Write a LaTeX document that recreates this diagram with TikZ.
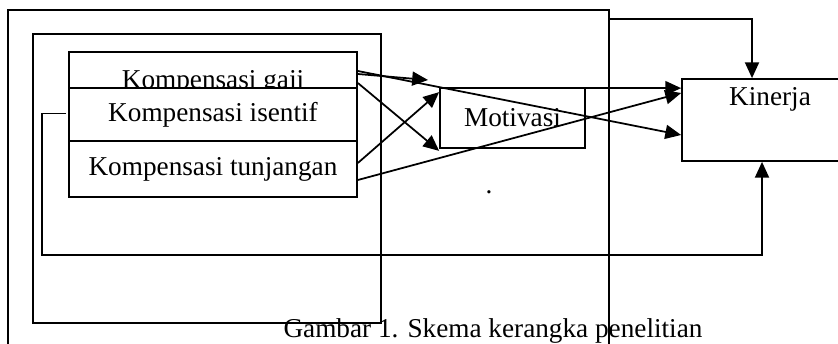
\documentclass[tikz,border=0pt]{standalone}
\usepackage{fontspec}
\setmainfont{Liberation Serif}
\usepackage{tikz}
\usetikzlibrary{arrows.meta, positioning, calc}

\begin{document}
\begin{tikzpicture}[x=0.02cm, y=-0.02cm, line width=1pt,
    box/.style={draw, fill=white, inner sep=0pt, font=\fontsize{15.5}{18}\selectfont},
    arr/.style={-{Triangle[length=9pt, width=8pt]}}]
\clip (0,0) rectangle (838,344);
% Frames
\draw (8,10) rectangle (609,360);
\draw (33,34) rectangle (381,323);
% Kompensasi
\node[box, minimum width=5.76cm, minimum height=1.2cm] (gaji) at (213,82) {Kompensasi gaji};
\node[box, minimum width=5.76cm, minimum height=1.06cm] (isentif) at (213,114.5) {Kompensasi isentif};
\node[box, minimum width=5.76cm, minimum height=1.12cm] (tunjangan) at (213,169) {Kompensasi tunjangan};
% Motivasi and Kinerja
\node[box, minimum width=2.9cm, minimum height=1.2cm] (motivasi) at (512.5,118) {Motivasi};
\node[box, minimum width=3.52cm, minimum height=1.64cm,
    label={[anchor=base, yshift=-15.4pt, font=\fontsize{15.5}{18}\selectfont]north:Kinerja}] (kinerja) at (770,120) {};
\node[font=\fontsize{15.5}{18}\selectfont, anchor=base] (dot) at (489,194) {.};
\node[font=\fontsize{15.5}{18}\selectfont, anchor=base] (caption) at (493,337) {Gambar 1. Skema kerangka penelitian};
% Connectors
\coordinate (gajiTip) at (428,80);
\coordinate (frameTop) at (609,19);
\coordinate (loopCorner) at (42,255);
\draw[arr] ($(gaji.east)+(0,-8)$) -- (gajiTip);
\draw[arr] ($(gaji.east)+(0,-11)$) -- ($(kinerja.west)+(0,15)$);
\draw[arr] ($(gaji.east)+(0,1)$) -- ($(motivasi.south west)+(0,2)$);
\draw[arr] ($(tunjangan.east)+(0,-6)$) -- ($(motivasi.north west)+(0,5)$);
\draw[arr] ($(tunjangan.east)+(0,11)$) -- ($(kinerja.west)+(0,-27)$);
\draw[arr] ($(motivasi.north east)+(0,1)$) -- ($(motivasi.north east -| kinerja.west)+(0,1)$);
\draw[arr] (frameTop) -| ($(kinerja.north)+(-18,0)$);
\draw[arr] ($(isentif.west)+(-2,-1)$) -| (loopCorner) -| ($(kinerja.south)+(-8,0)$);
\end{tikzpicture}
\end{document}
